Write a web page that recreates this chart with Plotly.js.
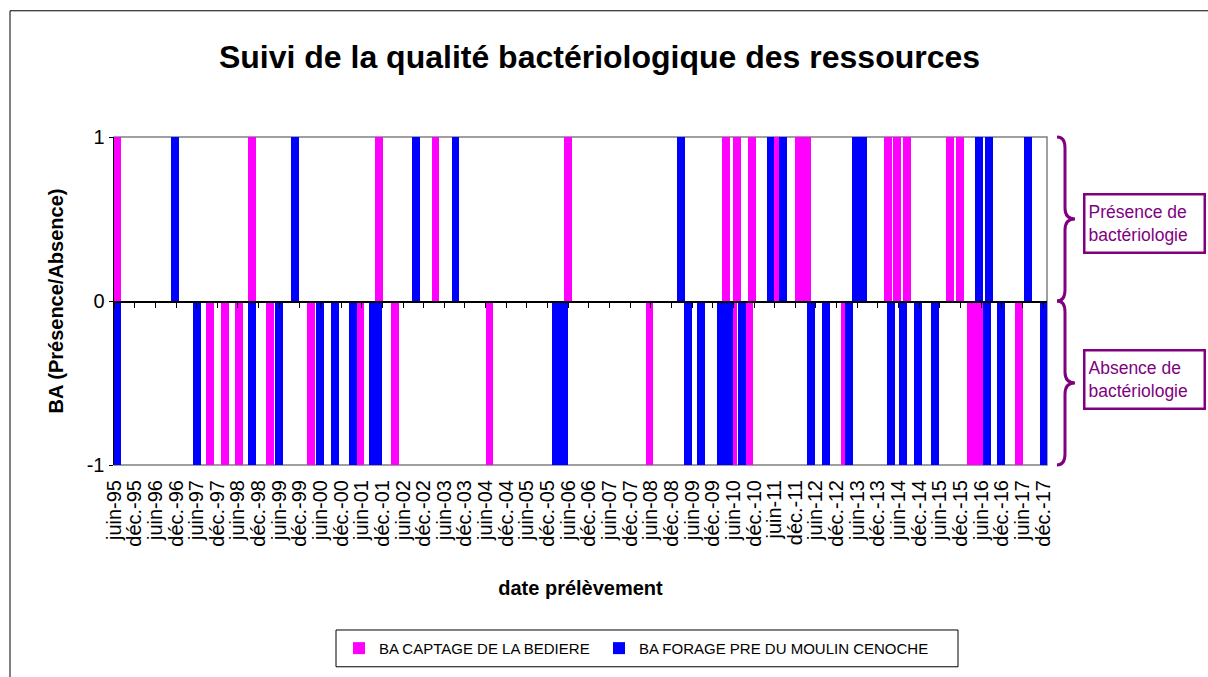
<!DOCTYPE html>
<html><head><meta charset="utf-8">
<script src="https://cdn.plot.ly/plotly-3.0.1.min.js"></script>
<style>html,body{margin:0;padding:0;background:#fff}#chart{width:1208px;height:677px}</style>
</head><body><div id="chart"></div>
<script>
// ---- data ----
const tickDates = ['1995-06-01','1995-12-01','1996-06-01','1996-12-01','1997-06-01','1997-12-01','1998-06-01','1998-12-01',
 '1999-06-01','1999-12-01','2000-06-01','2000-12-01','2001-06-01','2001-12-01','2002-06-01','2002-12-01',
 '2003-06-01','2003-12-01','2004-06-01','2004-12-01','2005-06-01','2005-12-01','2006-06-01','2006-12-01',
 '2007-06-01','2007-12-01','2008-06-01','2008-12-01','2009-06-01','2009-12-01','2010-06-01','2010-12-01',
 '2011-06-01','2011-12-01','2012-06-01','2012-12-01','2013-06-01','2013-12-01','2014-06-01','2014-12-01',
 '2015-06-01','2015-12-01','2016-06-01','2016-12-01','2017-06-01','2017-12-01'];
const tickLabels = ['juin-95','déc.-95','juin-96','déc.-96','juin-97','déc.-97','juin-98','déc.-98',
 'juin-99','déc.-99','juin-00','déc.-00','juin-01','déc.-01','juin-02','déc.-02',
 'juin-03','déc.-03','juin-04','déc.-04','juin-05','déc.-05','juin-06','déc.-06',
 'juin-07','déc.-07','juin-08','déc.-08','juin-09','déc.-09','juin-10','déc.-10',
 'juin-11','déc.-11','juin-12','déc.-12','juin-13','déc.-13','juin-14','déc.-14',
 'juin-15','déc.-15','juin-16','déc.-16','juin-17','déc.-17'];

const captageName = 'BA CAPTAGE DE LA BEDIERE';
const captageDates = ['1995-06-30','1997-09-27','1998-02-07','1998-06-10','1998-10-03','1999-03-14','2000-03-11',
 '2001-05-18','2001-10-28','2002-03-19','2003-03-15','2004-07-05','2006-05-31','2008-05-20','2010-04-01',
 '2010-05-26','2010-07-05','2010-10-19','2010-11-15','2011-06-28','2012-01-02','2012-03-17','2013-02-10',
 '2014-03-02','2014-05-16','2014-08-14','2015-09-03','2015-12-01','2016-03-01','2016-05-10','2017-05-05'];
const captageValues = [1,-1,-1,-1,1,-1,-1,
 -1,1,-1,1,-1,1,-1,1,
 -1,1,-1,1,1,1,1,-1,
 1,1,1,1,1,-1,-1,-1];

const forageName = 'BA FORAGE PRE DU MOULIN CENOCHE';
const forageDates = ['1995-06-28','1996-11-19','1997-06-01','1998-10-03','1999-05-30','1999-10-16','2000-05-24',
 '2000-10-04','2001-03-14','2001-09-10','2001-10-21','2002-09-21','2003-09-08','2006-02-16','2006-04-23',
 '2009-02-25','2009-04-26','2009-08-23','2010-02-12','2010-04-24','2010-08-16','2011-04-26','2011-08-18',
 '2012-04-15','2012-08-26','2013-03-19','2013-05-24','2013-07-22','2014-03-30','2014-07-15','2014-11-24',
 '2015-04-23','2016-05-14','2016-07-24','2016-08-08','2016-11-22','2017-07-22','2017-12-12'];
const forageValues = [-1,1,-1,-1,-1,1,-1,
 -1,-1,-1,-1,1,1,-1,-1,
 1,-1,-1,-1,-1,-1,1,1,
 -1,-1,-1,1,1,-1,-1,-1,
 -1,1,-1,1,-1,1,-1];

const yTicks = [-1, 0, 1];
const xRange = ['1995-06-01', '2018-01-05'];

// ---- geometry helpers (pixel -> paper) ----
const L = 114, R = 1047, T = 137, B = 467;
const fx = x => (x - L) / (R - L);
const fy = y => (B - y) / (B - T);
const FONT = 'Liberation Sans, Arial, sans-serif';
const PURPLE = '#800080';
const BAR_W = 70 * 86400000;

function bracePath(y0, y1) {
  const xs = 1057, xm = 1065, xt = 1075, r = 11, ym = (y0 + y1) / 2;
  const p = (x, y) => fx(x).toFixed(5) + ',' + fy(y).toFixed(5);
  return 'M' + p(xs, y0) + ' Q' + p(xm, y0) + ' ' + p(xm, y0 + r) +
    ' L' + p(xm, ym - r) + ' Q' + p(xm, ym) + ' ' + p(xt, ym) +
    ' Q' + p(xm, ym) + ' ' + p(xm, ym + r) +
    ' L' + p(xm, y1 - r) + ' Q' + p(xm, y1) + ' ' + p(xs, y1);
}

const traces = [
  { type: 'bar', name: captageName, x: captageDates, y: captageValues, width: BAR_W,
    marker: { color: '#FF00FF', line: { width: 0 } }, hoverinfo: 'x+y', legendwidth: 215 },
  { type: 'bar', name: forageName, x: forageDates, y: forageValues, width: BAR_W,
    marker: { color: '#0000FF', line: { width: 0 } }, hoverinfo: 'x+y', legendwidth: 300 },
  { type: 'scatter', x: forageDates.slice(0, 1), y: [0], xaxis: 'x2', mode: 'markers',
    marker: { opacity: 0 }, showlegend: false, hoverinfo: 'skip' }
];

const layout = {
  width: 1208, height: 677,
  margin: { l: L, r: 1208 - R, t: T, b: 677 - B, pad: 0 },
  paper_bgcolor: '#fff', plot_bgcolor: '#fff',
  font: { family: FONT, color: '#000', size: 20 },
  barmode: 'overlay',
  bargap: 0,
  title: { text: '<b>Suivi de la qualité bactériologique des ressources</b>',
    font: { family: FONT, size: 32, color: '#000' },
    xref: 'container', x: 599.5 / 1208, xanchor: 'center',
    yref: 'container', y: 1 - 57 / 677, yanchor: 'middle' },
  xaxis: {
    type: 'date', range: xRange, tickmode: 'array', tickvals: tickDates, ticktext: tickLabels,
    tickangle: -90, ticks: 'outside', ticklen: 6, tickcolor: 'rgba(0,0,0,0)',
    showline: false, showgrid: false, zeroline: false, automargin: false,
    tickfont: { family: FONT, size: 20, color: '#000' },
    title: { text: '<b>date prélèvement</b>', font: { family: FONT, size: 20, color: '#000' }, standoff: 35 }
  },
  xaxis2: {
    type: 'date', overlaying: 'x', anchor: 'free', position: 0.5, side: 'bottom',
    range: xRange, tickmode: 'array', tickvals: tickDates, showticklabels: false,
    ticks: 'outside', ticklen: 5, tickwidth: 1, tickcolor: '#000',
    showline: true, linecolor: '#000', linewidth: 1.5, showgrid: false, zeroline: false
  },
  yaxis: {
    range: [-1, 1], tickmode: 'array', tickvals: yTicks, ticktext: yTicks.map(String),
    ticks: 'outside', ticklen: 4, tickcolor: '#000', showline: true, linecolor: '#000', linewidth: 1.5,
    showgrid: false, zeroline: false, automargin: false,
    tickfont: { family: FONT, size: 20, color: '#000' },
    title: { text: '<b>BA (Présence/Absence)</b>', font: { family: FONT, size: 20, color: '#000' }, standoff: 17 }
  },
  showlegend: true,
  legend: {
    orientation: 'h', x: fx(339), xanchor: 'left', y: fy(651.5), yanchor: 'middle',
    borderwidth: 0, bgcolor: 'rgba(0,0,0,0)',
    font: { family: FONT, size: 15, color: '#000' },
    traceorder: 'normal'
  },
  shapes: [
    { type: 'rect', xref: 'paper', yref: 'paper', x0: 0, x1: 1, y0: 0, y1: 1,
      line: { color: '#808080', width: 1.5 }, layer: 'below' },
    { type: 'rect', xref: 'paper', yref: 'paper', x0: fx(10), x1: fx(1230), y0: fy(10), y1: fy(700),
      line: { color: '#000', width: 1 }, layer: 'below' },
    { type: 'rect', xref: 'paper', yref: 'paper', x0: fx(336), x1: fx(958), y0: fy(633), y1: fy(670),
      line: { color: '#000', width: 1 }, layer: 'below' },
    { type: 'path', xref: 'paper', yref: 'paper', path: bracePath(137, 302), line: { color: PURPLE, width: 3 } },
    { type: 'path', xref: 'paper', yref: 'paper', path: bracePath(302, 467), line: { color: PURPLE, width: 3 } }
  ],
  annotations: [
    { xref: 'paper', yref: 'paper', x: fx(1144), y: fy(224), xanchor: 'center', yanchor: 'middle',
      text: 'Présence de<br>bactériologie', showarrow: false, align: 'left',
      font: { family: FONT, size: 17.5, color: PURPLE },
      bordercolor: PURPLE, borderwidth: 2.5, borderpad: 3, bgcolor: '#fff', width: 112, height: 50 },
    { xref: 'paper', yref: 'paper', x: fx(1144), y: fy(381), xanchor: 'center', yanchor: 'middle',
      text: 'Absence de<br>bactériologie', showarrow: false, align: 'left',
      font: { family: FONT, size: 17.5, color: PURPLE },
      bordercolor: PURPLE, borderwidth: 2.5, borderpad: 3, bgcolor: '#fff', width: 112, height: 50 }
  ]
};

Plotly.newPlot('chart', traces, layout, { displayModeBar: false, staticPlot: true });
</script>
</body></html>
